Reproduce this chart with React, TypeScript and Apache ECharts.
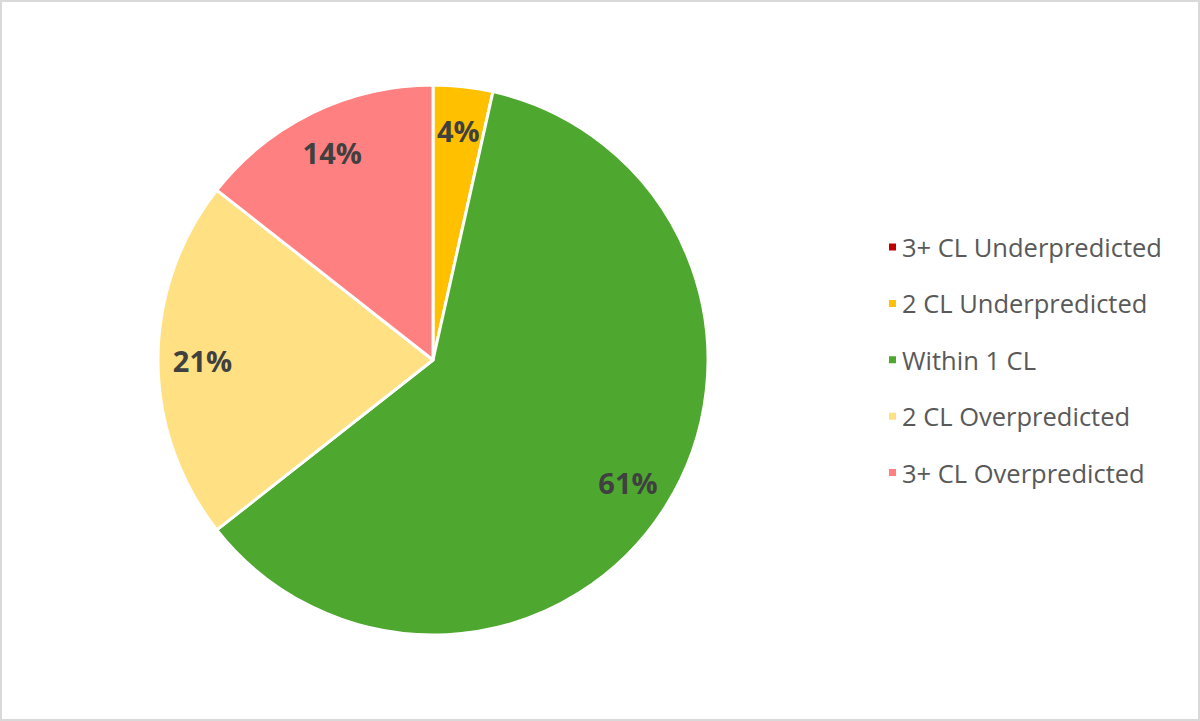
import React, { useEffect, useRef } from "react";
import * as echarts from "echarts";

const categories = [
  "3+ CL Underpredicted",
  "2 CL Underpredicted",
  "Within 1 CL",
  "2 CL Overpredicted",
  "3+ CL Overpredicted",
];
const values = [0, 3.5, 60.9, 21.2, 14.4];
const colors = ["#C00000", "#FFC000", "#4EA72E", "#FFE082", "#FF8080"];

export default function App() {
  const ref = useRef<HTMLDivElement>(null);
  useEffect(() => {
    if (!ref.current) return;
    const chart = echarts.init(ref.current, null, { renderer: "svg" });
    const data = categories.map((name, i) => ({
      name,
      value: values[i],
      itemStyle: { color: colors[i] },
    }));
    const fmt = (p: any) => (p.value > 0 ? Math.round(p.percent) + "%" : "");
    chart.setOption({
      animation: false,
      legend: {
        orient: "vertical",
        left: 882,
        top: 229,
        itemWidth: 9,
        itemHeight: 9,
        itemGap: 30.4,
        icon: "rect",
        data: categories,
        textStyle: { color: "#595959", fontSize: 25.5, fontFamily: "Open Sans" },
      },
      series: [
        {
          type: "pie",
          center: [433, 360],
          radius: [0, 275],
          startAngle: 90,
          clockwise: true,
          data,
          label: { show: false },
          labelLine: { show: false },
          itemStyle: { borderColor: "#FFFFFF", borderWidth: 3 },
          emphasis: { disabled: true },
          silent: true,
        },
        {
          type: "pie",
          center: [433, 360],
          radius: [180, 275],
          startAngle: 90,
          clockwise: true,
          data: categories.map((name, i) => ({ name, value: values[i] })),
          itemStyle: { color: "rgba(0,0,0,0)" },
          label: {
            show: true,
            position: "inside",
            formatter: fmt,
            color: "#404040",
            fontSize: 29,
            fontWeight: "bold",
            fontFamily: "Open Sans",
          },
          labelLine: { show: false },
          emphasis: { disabled: true },
          silent: true,
          legendHoverLink: false,
        },
      ],
    });
    return () => chart.dispose();
  }, []);
  return (
    <div
      style={{
        position: "fixed",
        left: 0,
        top: 0,
        width: 1200,
        height: 721,
        background: "#FFFFFF",
      }}
    >
      <div ref={ref} style={{ position: "absolute", left: 0, top: 0, width: 1200, height: 721 }} />
      <div
        style={{
          position: "absolute",
          left: 0,
          top: 0,
          width: 1200,
          height: 721,
          boxSizing: "border-box",
          border: "2px solid #D9D9D9",
          pointerEvents: "none",
        }}
      />
    </div>
  );
}
